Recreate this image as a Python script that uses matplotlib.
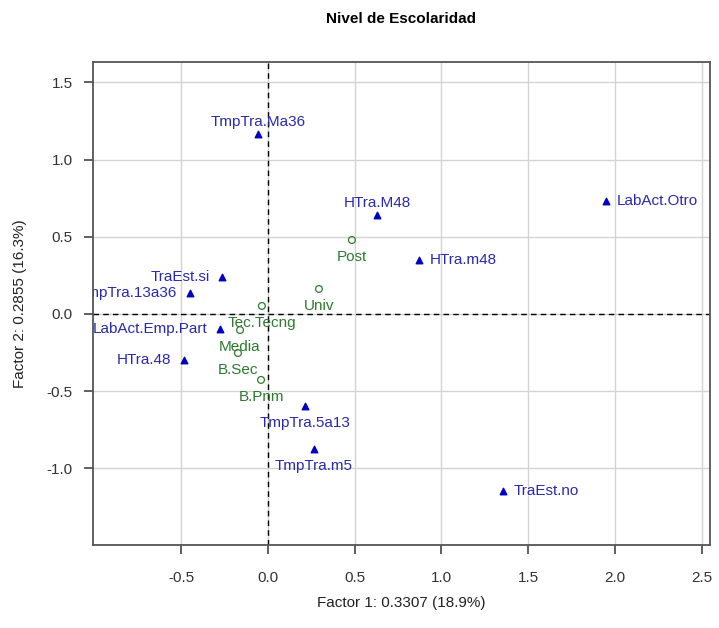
import matplotlib
matplotlib.use("Agg")
import matplotlib.pyplot as plt

plt.rcParams['font.family'] = ['Liberation Sans', 'DejaVu Sans']

# column categories (triangles)
col_names = ["TmpTra.Ma36", "HTra.M48", "LabAct.Otro", "HTra.m48", "TraEst.si",
             "TmpTra.13a36", "LabAct.Emp.Part", "HTra.48", "TmpTra.5a13",
             "TmpTra.m5", "TraEst.no"]
col_x = [-0.058, 0.629, 1.949, 0.871, -0.265, -0.45, -0.277, -0.484, 0.213, 0.265, 1.355]
col_y = [1.166, 0.641, 0.732, 0.350, 0.240, 0.136, -0.097, -0.298, -0.596, -0.874, -1.146]

# row categories (open circles)
row_names = ["Post", "Univ", "Tec.Tecng", "Media", "B.Sec", "B.Pnm"]
row_x = [0.484, 0.294, -0.035, -0.161, -0.173, -0.040]
row_y = [0.479, 0.162, 0.052, -0.104, -0.253, -0.427]

x_ticks = [-0.5, 0.0, 0.5, 1.0, 1.5, 2.0, 2.5]
y_ticks = [-1.0, -0.5, 0.0, 0.5, 1.0, 1.5]

# which side each label sits on
col_side = {"TmpTra.Ma36": "top", "HTra.M48": "top", "LabAct.Otro": "right",
            "HTra.m48": "right", "TraEst.si": "left", "TmpTra.13a36": "left",
            "LabAct.Emp.Part": "left", "HTra.48": "left", "TmpTra.5a13": "bottom",
            "TmpTra.m5": "bottom", "TraEst.no": "right"}

blue = "#0000c0"
green = "#2e7a2e"
fs = 11

fig = plt.figure(figsize=(7.19, 6.28), dpi=100)
ax = fig.add_axes([0.1293, 0.1322, 0.8582, 0.7691])

ax.set_xlim(-1.009, 2.549)
ax.set_ylim(-1.496, 1.632)
ax.set_xticks(x_ticks)
ax.set_yticks(y_ticks)
ax.set_xticklabels([f"{t:.1f}" for t in x_ticks])
ax.set_yticklabels([f"{t:.1f}" for t in y_ticks])
ax.grid(True, color="#d3d3d3", lw=1)
ax.set_axisbelow(True)
ax.axhline(0, color="black", ls=(0, (4, 3)), lw=1)
ax.axvline(0, color="black", ls=(0, (4, 3)), lw=1)

for s in ax.spines.values():
    s.set_color("#555555")
    s.set_linewidth(1.3)
ax.tick_params(length=6.5, width=1.2, labelsize=fs, colors="#444444", labelcolor="#333333")
ax.tick_params(axis="x", pad=12)
ax.tick_params(axis="y", pad=8)

offs = {"top": ((0, 8.5), "center", "center"),
        "bottom": ((0, -12), "center", "center"),
        "left": ((-9, 0), "right", "center"),
        "right": ((7.5, 0), "left", "center")}

ax.scatter(col_x, col_y, marker="^", s=22, color=blue, zorder=3)
for n, x, y in zip(col_names, col_x, col_y):
    o, ha, va = offs[col_side[n]]
    ax.annotate(n, (x, y), xytext=o, textcoords="offset points", ha=ha, va=va,
                color="#2a2aa8", fontsize=fs, annotation_clip=False, clip_on=True)

ax.scatter(row_x, row_y, marker="o", s=24, facecolor="none", edgecolor=green, lw=0.9, zorder=3)
for n, x, y in zip(row_names, row_x, row_y):
    o, ha, va = offs["bottom"]
    ax.annotate(n, (x, y), xytext=o, textcoords="offset points", ha=ha, va=va,
                color=green, fontsize=fs, clip_on=True)

ax.set_title("Nivel de Escolaridad", fontsize=fs, fontweight="bold", pad=28)
ax.set_xlabel("Factor 1: 0.3307 (18.9%)", fontsize=fs, labelpad=8, color="#222222")
ax.set_ylabel("Factor 2: 0.2855 (16.3%)", fontsize=fs, labelpad=14, color="#222222")

fig.savefig("out.png", dpi=100)
